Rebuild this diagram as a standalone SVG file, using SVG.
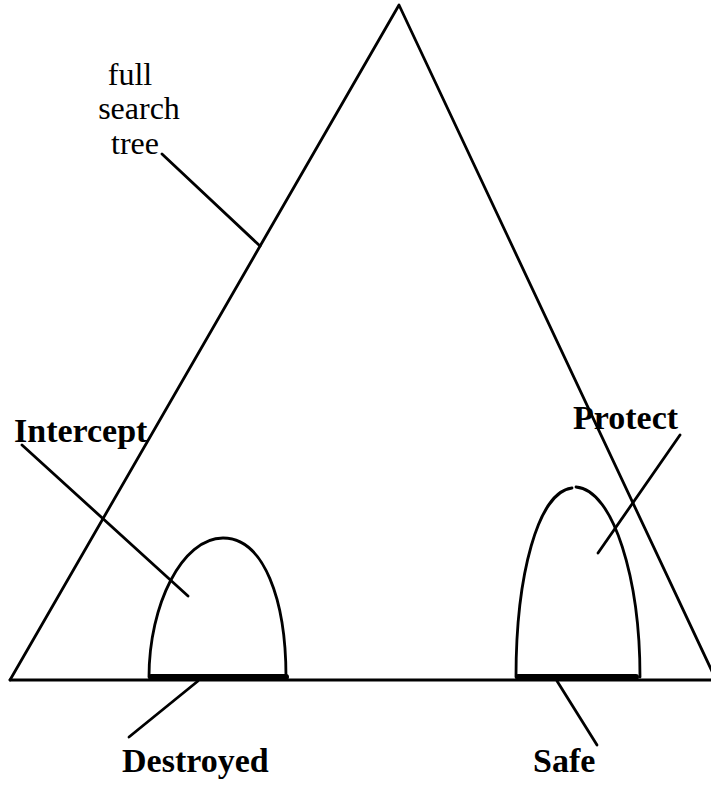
<svg xmlns="http://www.w3.org/2000/svg" width="711" height="786" viewBox="0 0 711 786">
<style>
.ln{fill:none;stroke:#000;stroke-width:2.8;stroke-linecap:round;stroke-linejoin:round}
.bar{fill:none;stroke:#000;stroke-width:6;stroke-linecap:round}
.lbl{font-family:"Liberation Serif","Times New Roman",serif;font-size:34px;font-weight:bold;fill:#000}
.reg{font-family:"Liberation Serif","Times New Roman",serif;font-size:32px;fill:#000}
</style>
<rect width="711" height="786" fill="#fff"/>
<g id="tree">
<path class="ln" d="M10,680 L399,5 L718,684"/>
<line class="ln" x1="10" y1="680" x2="711" y2="680" stroke-width="3.2"/>
<text class="reg" x="130" y="85" text-anchor="middle">full</text>
<text class="reg" x="139" y="119" text-anchor="middle">search</text>
<text class="reg" x="135" y="154" text-anchor="middle">tree</text>
</g>
<g id="intercept">
<path class="ln" d="M149,677 C149,605 182,538 223,538 C264,538 286,600 286,677"/>
<line class="bar" x1="151" y1="677" x2="286" y2="677"/>
<text class="lbl" x="14" y="442">Intercept</text>
</g>
<g id="protect">
<path class="ln" d="M516,677 C516,575 538,492 572,488 M576,487 C614,490 640,580 640,677"/>
<line class="bar" x1="518" y1="677" x2="636" y2="677"/>
<text class="lbl" x="573" y="429">Protect</text>
</g>
<g id="destroyed">
<text class="lbl" x="122" y="772">Destroyed</text>
</g>
<g id="safe">
<text class="lbl" x="533" y="772">Safe</text>
</g>
<g id="connectors">
<line class="ln" x1="162" y1="154" x2="260" y2="246"/>
<line class="ln" x1="22" y1="445" x2="188" y2="596"/>
<line class="ln" x1="680" y1="435" x2="598" y2="553"/>
<line class="ln" x1="198" y1="681" x2="129" y2="737"/>
<line class="ln" x1="557" y1="681" x2="597" y2="745"/>
</g>
</svg>
